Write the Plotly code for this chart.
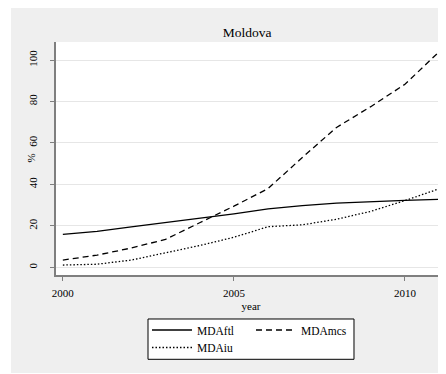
import plotly.graph_objects as go

# Données
years = [2000, 2001, 2002, 2003, 2004, 2005, 2006, 2007, 2008, 2009, 2010, 2011]
mda_ftl = [15.9, 17.3, 19.5, 21.5, 23.8, 25.8, 28.2, 29.8, 31.0, 31.8, 32.3, 32.8]
mda_mcs = [3.5, 5.9, 9.3, 13.5, 21.5, 29.5, 38.0, 53.0, 67.5, 77.5, 88.3, 104.0]
mda_iu = [1.1, 1.5, 3.5, 7.0, 10.5, 14.5, 19.6, 20.5, 23.2, 27.0, 32.2, 37.9]

x_ticks = [2000, 2005, 2010]
y_ticks = [0, 20, 40, 60, 80, 100]

FONT = "Liberation Serif, Times New Roman, Times, serif"
AXIS = "#7f7f7f"

fig = go.Figure()
fig.add_trace(go.Scatter(x=years, y=mda_ftl, mode="lines", name="MDAftl",
                         line=dict(color="black", width=1.3), legend="legend"))
fig.add_trace(go.Scatter(x=years, y=mda_mcs, mode="lines", name="MDAmcs",
                         line=dict(color="black", width=1.3, dash="6px,4px"), legend="legend"))
fig.add_trace(go.Scatter(x=years, y=mda_iu, mode="lines", name="MDAiu",
                         line=dict(color="black", width=1.3, dash="1.5px,2px"), legend="legend2"))

leg_common = dict(orientation="h", bgcolor="rgba(0,0,0,0)", borderwidth=0,
                  font=dict(family=FONT, size=11.5, color="black"),
                  itemwidth=40, entrywidth=49, xanchor="left", yanchor="middle")

# la page ajoute 8px de marge (body), on décale tout de 8px
fig.update_layout(
    width=446, height=374,
    margin=dict(l=48, r=8, t=34, b=107, autoexpand=False),
    paper_bgcolor="white",
    plot_bgcolor="rgba(0,0,0,0)",
    font=dict(family=FONT, size=11, color="black"),
    title=dict(text="Moldova", xref="paper", x=0.49, xanchor="center", y=0.9358, yanchor="middle",
               font=dict(family=FONT, size=13.5, color="black")),
    showlegend=True,
    legend=dict(x=0.2333, y=-0.2361, **leg_common),
    legend2=dict(x=0.2333, y=-0.3112, **leg_common),
    xaxis=dict(range=[1999.8, 2011.2], tickvals=x_ticks, showgrid=False, zeroline=False,
               showline=True, linecolor=AXIS, linewidth=1.5,
               ticks="outside", ticklen=4, tickcolor=AXIS, tickwidth=1,
               ticklabelstandoff=3, tickfont=dict(family=FONT, size=11),
               title=dict(text="year", standoff=4, font=dict(family=FONT, size=11))),
    yaxis=dict(range=[-3.7, 108.7], tickvals=y_ticks, showgrid=True, gridcolor="#e6e6e6",
               gridwidth=1, zeroline=False, showline=True, linecolor=AXIS, linewidth=1.5,
               ticks="outside", ticklen=4, tickcolor=AXIS, tickwidth=1, tickangle=-90,
               ticklabelstandoff=9, tickfont=dict(family=FONT, size=11)),
    shapes=[
        # panneau gris
        dict(type="rect", xref="paper", yref="paper", x0=-0.1154, x1=1.03, y0=-0.4206, y1=1.2,
             fillcolor="#efefef", line=dict(width=0), layer="below"),
        # zone du graphique
        dict(type="rect", xref="paper", yref="paper", x0=0, x1=1.03, y0=0, y1=1,
             fillcolor="white", line=dict(width=0), layer="below"),
        # cadre de la légende
        dict(type="rect", xref="paper", yref="paper", x0=0.2359, x1=0.7641, y0=-0.3618, y1=-0.1888,
             fillcolor="white", line=dict(color="black", width=1)),
    ],
    annotations=[
        dict(text="%", xref="paper", yref="paper", x=(22 - 48) / 390, y=0.5, showarrow=False,
             xanchor="center", yanchor="middle", textangle=-90,
             font=dict(family=FONT, size=11, color="black")),
    ],
)

fig.write_html("out.html")
